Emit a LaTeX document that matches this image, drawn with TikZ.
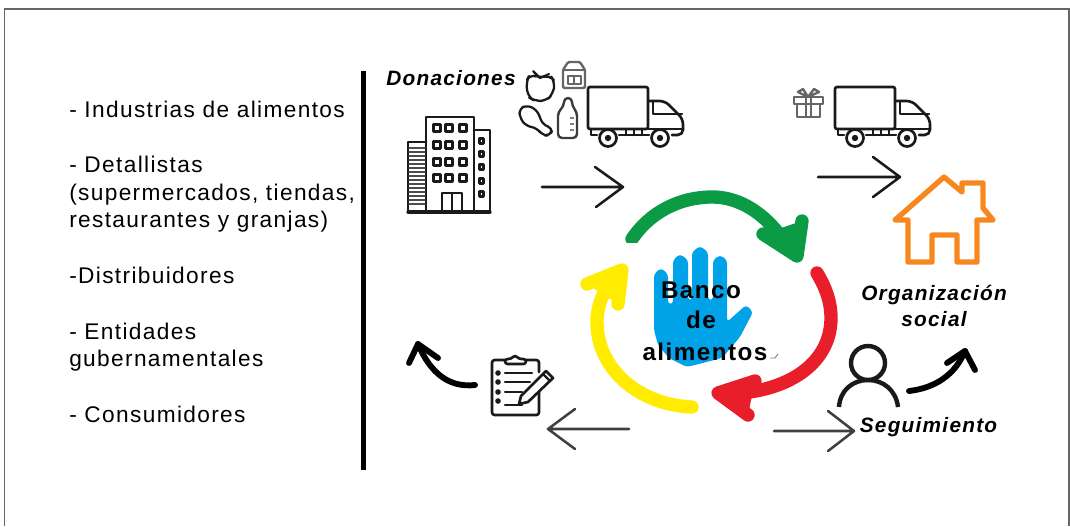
\documentclass[tikz,border=0pt]{standalone}
\usepackage{fontspec}
\setmainfont{Liberation Sans}
\newfontfamily\listfont[LetterSpace=6]{Liberation Sans}
\newfontfamily\boldfont[LetterSpace=6,BoldFont={Liberation Sans Bold}]{Liberation Sans}
\usetikzlibrary{arrows.meta}
\definecolor{ink}{HTML}{1A1A1A}
\definecolor{handblue}{HTML}{00A2E8}
\definecolor{cgreen}{HTML}{0C9B45}
\definecolor{cred}{HTML}{E81E2A}
\definecolor{cyellow}{HTML}{FFEC00}
\definecolor{corange}{HTML}{F7881F}
\tikzset{
  listlabel/.style={anchor=base west,inner sep=0pt,font=\fontsize{17pt}{20pt}\listfont,text=black},
  tag/.style={anchor=base,inner sep=0pt,font=\fontsize{15.6pt}{18pt}\boldfont\bfseries\itshape,text=black},
  centrelabel/.style={anchor=base,inner sep=0pt,font=\fontsize{18.2pt}{20pt}\boldfont\bfseries,text=black},
  thin arrow/.style={draw=ink,line width=1.9pt,line cap=round,line join=round},
  thick arrow/.style={draw=black,line width=4.4pt,line cap=round,line join=round},
  icon/.style={draw=ink,line width=2pt,line join=round,line cap=round},
  grayicon/.style={draw=black!60,line width=1.8pt,line join=round,line cap=round},
  ring/.style={line width=10pt,line cap=round,line join=round},
  pics/truck/.style={code={
    \draw[icon,rounded corners=1.5pt] (0,42) -- (0,0) -- (60,0) -- (60,42) -- cycle;
    \draw[icon,rounded corners=4pt] (60,14) -- (77,14) -- (95,32) -- (95,48) -- (84,48);
    \draw[icon] (65,14) -- (65,27) -- (94,27);
    \draw[icon] (60,42) -- (95,42);
    \draw[icon] (3,42) -- (3,48) -- (9,48) (31,48) -- (61,48);
    \foreach \xx in {38,46,54}{\draw[icon] (\xx,42) -- (\xx,48);}
    \foreach \xx in {20,72}{
      \draw[icon,fill=white] (\xx,51) circle[radius=8.5];
      \fill[ink] (\xx,51) circle[radius=3.2];
    }
  }}
}
\begin{document}
\begin{tikzpicture}[x=0.75pt,y=-0.75pt]
\useasboundingbox (0,0) rectangle (1070,526);
% frame
\coordinate (fbl) at (4.5,526); \coordinate (ftl) at (4.5,9); \coordinate (ftr) at (1069,9); \coordinate (fbr) at (1069,526);
\draw[black!60,line width=1pt] (fbl) -- (ftl) -- (ftr) -- (fbr);
% bar
\coordinate (bart) at (363.5,71); \coordinate (barb) at (363.5,470);
\draw[black,line width=3.7pt] (bart) -- (barb);
% list
\node[listlabel] (l1) at (69,117) {- Industrias de alimentos};
\node[listlabel] (l2) at (69,172) {- Detallistas};
\node[listlabel] (l3) at (69,200) {(supermercados, tiendas,};
\node[listlabel] (l4) at (69,227) {restaurantes y granjas)};
\node[listlabel] (l5) at (69,283) {-Distribuidores};
\node[listlabel] (l6) at (69,339) {- Entidades};
\node[listlabel] (l7) at (69,366) {gubernamentales};
\node[listlabel] (l8) at (69,422) {- Consumidores};
% tags
\node[tag] (don) at (451,85) {Donaciones};
\node[tag] (org) at (934,300) {Organización};
\node[tag] (soc) at (934,326) {social};
\node[tag] (seg) at (928.5,432) {Seguimiento};
% trucks
\pic at (588,87) {truck};
\pic at (835,87) {truck};
% building
\draw[icon] (426,212) -- (426,117) -- (474,117) -- (474,212);
\draw[icon] (426,142) -- (408,142) -- (408,212) (474,130) -- (490,130) -- (490,212);
\draw[icon,line width=2.4pt] (408,212) -- (490,212);
\foreach \yy in {128,145,162,178}{\foreach \xx in {437,449,463}{
  \draw[icon,line width=2.3pt] (\xx-3.5,\yy-3.5) rectangle (\xx+3.5,\yy+3.5);}}
\foreach \yy in {141,154,167,181,194}{\draw[icon,line width=2.1pt] (479.5,\yy-2.5) rectangle (483.5,\yy+2.5);}
\foreach \yy in {148,152,...,204}{\draw[icon,line width=1.4pt,draw=black!70] (409,\yy) -- (425,\yy);}
\draw[icon] (442,212) -- (442,193) -- (462,193) -- (462,212) (452,193) -- (452,212);
% food
\draw[icon,line width=1.7pt,rounded corners=5pt] (540,78) -- (530,74) -- (526,82) -- (528,97) -- (535,101) -- (546,101) -- (553,94) -- (555,82) -- (550,75) -- cycle;
\draw[icon,line width=1.6pt] (540,78) -- (533,71) (540,78) -- (549,74);
\draw[grayicon,rounded corners=1pt] (563,88) -- (563,70) -- (568,62) -- (580,62) -- (585,70) -- (585,88) -- cycle;
\draw[grayicon] (563,70) -- (585,70) (568,76) rectangle (581,84) (574,76) -- (574,84);
\draw[grayicon,draw=ink!85,rounded corners=3pt] (558,138) -- (558,112) -- (564,106) -- (564,98) -- (572,98) -- (572,106) -- (577,112) -- (577,138) -- cycle;
\draw[black!50,line width=1pt] (570,118) -- (574,118) (570,124) -- (574,124) (570,130) -- (574,130);
\draw[icon,line width=1.7pt,rounded corners=4pt] (520,118) -- (519,109) -- (527,105) -- (537,110) -- (543,125) -- (553,128) -- (550,136) -- (542,135) -- (537,128) -- (526,126) -- cycle;
% gift
\draw[grayicon] (794,97) rectangle (823,104) (797,104) rectangle (820,117) (806,97) -- (806,117) (811,97) -- (811,117);
\draw[grayicon] (808,97) -- (803,89) -- (798,92) -- (808,97) -- (814,89) -- (819,92) -- cycle;
% house
\draw[corange,line width=4pt,line join=round] (944,177) -- (962,192) -- (962,183) -- (983,183) -- (983,208) -- (993,220) -- (977,220) -- (977,262) -- (957,262) -- (957,235) -- (932,235) -- (932,262) -- (908,262) -- (908,220) -- (895,220) -- cycle;
% thin arrows
\coordinate (a1s) at (542,187); \coordinate (a1e) at (623,187); \coordinate (a1u) at (595,167); \coordinate (a1d) at (596,207);
\draw[thin arrow] (a1s) -- (a1e) (a1u) -- (a1e) -- (a1d);
\coordinate (a2s) at (818,177); \coordinate (a2e) at (900,177); \coordinate (a2u) at (873,157); \coordinate (a2d) at (873,197);
\draw[thin arrow] (a2s) -- (a2e) (a2u) -- (a2e) -- (a2d);
\coordinate (a3s) at (629,429); \coordinate (a3e) at (548,429); \coordinate (a3u) at (575,409); \coordinate (a3d) at (575,449);
\draw[thin arrow,draw=black!75] (a3s) -- (a3e) (a3u) -- (a3e) -- (a3d);
\coordinate (a4s) at (774,431); \coordinate (a4e) at (854,431); \coordinate (a4u) at (828,411); \coordinate (a4d) at (828,451);
\draw[thin arrow,draw=black!75] (a4s) -- (a4e) (a4u) -- (a4e) -- (a4d);
% thick arrows
\coordinate (c1s) at (475,385); \coordinate (c1e) at (418,344);
\draw[thick arrow] (c1s) .. controls (448,388) and (430,372) .. (c1e);
\draw[thick arrow] (409,363) -- (c1e) -- (438,358);
\coordinate (c2s) at (909,391); \coordinate (c2e) at (965,351);
\draw[thick arrow] (c2s) .. controls (935,388) and (955,375) .. (c2e);
\draw[thick arrow] (947,363) -- (c2e) -- (975,370);
% person
\draw[icon,line width=3.3pt] (868,363) circle[radius=17];
\draw[icon,line width=3.3pt,line cap=butt] (839,407) .. controls (840,390) and (853,380) .. (868,380) .. controls (883,380) and (896,390) .. (898,407);
% clipboard
\draw[icon,rounded corners=2pt] (506,360) -- (492,360) -- (492,415) -- (539,415) -- (539,392) (539,372) -- (539,360) -- (524,360);
\draw[icon,fill=white,rounded corners=2pt] (505,364) -- (505,359) -- (511,359) -- (515,355) -- (519,359) -- (526,359) -- (526,364) -- cycle;
\foreach \yy in {373,382,392,401}{\fill[ink] (498,\yy) circle[radius=2.8];}
\foreach \yy/\xe in {373/532,382/530,392/522}{\draw[icon,line width=1.6pt] (505,\yy) -- (\xe,\yy);}
\draw[icon,line width=1.6pt] (505,405) -- (522,405);
\draw[icon,fill=white] (521,396) -- (546,371) -- (553,378) -- (528,402) -- (519,404) -- cycle;
\draw[icon,line width=1.6pt] (543,374) -- (550,381);
% hand
\fill[handblue,rounded corners=2.5pt]
  (654,330) -- (654,274) -- (661,268) -- (668,274) -- (668,304) --
  (673,304) -- (673,260) -- (680,254) -- (688,260) -- (688,300) --
  (692,300) -- (692,252) -- (700,246) -- (708,252) -- (708,300) --
  (713,300) -- (713,260) -- (720,255) -- (727,260) -- (727,322) --
  (746,305) -- (753,312) -- (740,337) -- (722,358) -- (687,367) -- (669,358) -- (658,345) -- cycle;
\draw[black!50,line width=0.7pt] (770,358) -- (775,358) -- (778,354);
% rings
\coordinate (gs) at (632,239); \coordinate (gm) at (712,197); \coordinate (ge) at (790,250);
\coordinate (gt) at (797,256); \coordinate (gu) at (802,221); \coordinate (gd) at (763,234);
\draw[cgreen,ring] (gs) .. controls (650,212) and (680,197) .. (gm) .. controls (745,197) and (772,220) .. (ge);
\fill[cgreen] (gu) -- (gt) -- (gd) -- cycle;
\draw[cgreen,ring] (gu) -- (gt) -- (gd);
\fill[white] (626,243) rectangle (660,252);
\coordinate (rs) at (817,273); \coordinate (rm) at (831,318); \coordinate (re) at (725,394);
\coordinate (rt) at (718,393); \coordinate (ru) at (755,381); \coordinate (rd) at (748,415);
\draw[cred,ring] (rs) .. controls (826,288) and (831,302) .. (rm) .. controls (831,362) and (790,393) .. (re);
\fill[cred] (ru) -- (rt) -- (rd) -- cycle;
\draw[cred,ring] (ru) -- (rt) -- (rd);
\coordinate (ys) at (692,407); \coordinate (ym) at (597,322); \coordinate (ye) at (618,274);
\coordinate (yt) at (622,270); \coordinate (yu) at (587,284); \coordinate (yd) at (618,304);
\draw[cyellow,ring] (ys) .. controls (640,405) and (597,370) .. (ym) .. controls (597,302) and (606,286) .. (ye);
\fill[cyellow] (yu) -- (yt) -- (yd) -- cycle;
\draw[cyellow,ring] (yu) -- (yt) -- (yd);
% centre text
\node[centrelabel] (b1) at (701,298) {Banco};
\node[centrelabel] (b2) at (701,328) {de};
\node[centrelabel] (b3) at (705,360) {alimentos};
\end{tikzpicture}
\end{document}
